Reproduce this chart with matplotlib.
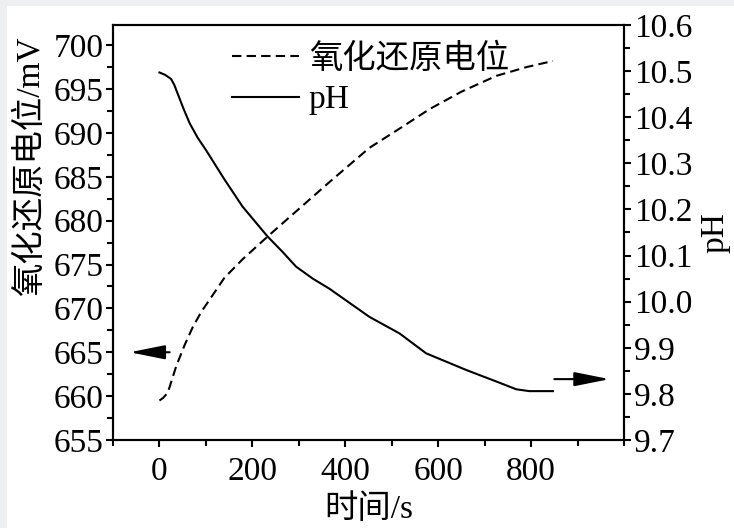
import numpy as np
import matplotlib
matplotlib.use("Agg")
from matplotlib import pyplot as plt
from matplotlib.ticker import MultipleLocator
from matplotlib.patches import Rectangle

plt.rcParams['font.family'] = ['Liberation Serif', 'Noto Sans CJK SC']
plt.rcParams['font.size'] = 24

# redox potential (mV) vs time (s)
t_orp = [0, 8, 18, 36, 54, 72, 90, 108, 140, 179, 233, 280, 323, 366, 410, 452,
         520, 581, 650, 725, 790, 847]
orp = [659.5, 659.8, 660.4, 663.4, 665.8, 667.9, 669.6, 671.0, 673.5, 675.6, 678.2,
       680.4, 682.4, 684.4, 686.4, 688.3, 690.6, 692.7, 694.7, 696.5, 697.5, 698.2]

# pH vs time (s)
t_ph = [0, 12, 25, 32, 40, 52, 65, 82, 100, 140, 179, 233, 265, 294, 330, 366, 452,
        517, 574, 660, 730, 768, 796, 847]
ph = [10.497, 10.492, 10.483, 10.470, 10.449, 10.418, 10.387, 10.356, 10.329, 10.265,
      10.206, 10.141, 10.108, 10.076, 10.050, 10.028, 9.967, 9.931, 9.888, 9.852,
      9.825, 9.810, 9.806, 9.806]

labels = ['氧化还原电位', 'pH']

fig = plt.figure(figsize=(7.34, 5.28), dpi=100, facecolor='white')
# grey strips along the top and left edge of the scan
fig.patches.append(Rectangle((0, 1 - 6 / 528), 1, 6 / 528, transform=fig.transFigure,
                             facecolor='#eeeff1', edgecolor='none', zorder=-1))
fig.patches.append(Rectangle((0, 0), 7 / 734, 1, transform=fig.transFigure,
                             facecolor='#eeeff1', edgecolor='none', zorder=-1))
ax = fig.add_axes([113 / 734, 88 / 528, 511 / 734, 415 / 528])
ax2 = ax.twinx()

l1, = ax.plot(t_orp, orp, color='black', lw=1.5, ls=(0, (4.5, 2.5)))
l2, = ax2.plot(t_ph, ph, color='black', lw=1.5)

ax.set_xlim(-100, 1000)
ax.set_ylim(655, 702.3)
ax2.set_ylim(9.7, 10.6)

ax.xaxis.set_minor_locator(MultipleLocator(100))
ax.yaxis.set_minor_locator(MultipleLocator(2.5))
ax2.yaxis.set_minor_locator(MultipleLocator(0.05))
ax.set_xticks([0, 200, 400, 600, 800])
ax.set_yticks(np.arange(655, 701, 5))
ax2.set_yticks(np.round(np.arange(9.7, 10.61, 0.1), 1))
ax2.set_yticklabels(['%.1f' % v for v in np.arange(9.7, 10.61, 0.1)])

for a in (ax, ax2):
    for s in a.spines.values():
        s.set_linewidth(1.5)
    a.tick_params(which='major', direction='out', length=5, width=1.5, pad=2)
    a.tick_params(which='minor', direction='out', length=4, width=1.5)
ax.tick_params(axis='x', which='both', top=False)
ax.tick_params(axis='x', which='major', pad=7)
ax.tick_params(axis='y', which='both', right=False)

ax.set_xlabel('时间/s', labelpad=5)
ax.set_ylabel('氧化还原电位/mV')
ax.yaxis.set_label_coords(-0.13, 0.66)
ax2.set_ylabel('pH')
ax2.yaxis.set_label_coords(1.148, 0.5)

ax.annotate('', xy=(-70, 665), xytext=(28, 665),
            arrowprops=dict(arrowstyle='-|>,head_length=0.9,head_width=0.18', color='black', lw=1.5))
ax2.annotate('', xy=(975, 9.832), xytext=(844, 9.832),
             arrowprops=dict(arrowstyle='-|>,head_length=0.9,head_width=0.18', color='black', lw=1.5))

ax.legend([l1, l2], labels, loc='upper left', bbox_to_anchor=(0.233, 0.955), frameon=False,
          borderpad=0, borderaxespad=0, handlelength=2.0, handletextpad=0.3, labelspacing=0.3)

fig.savefig('out.png', dpi=100, facecolor=fig.get_facecolor())
